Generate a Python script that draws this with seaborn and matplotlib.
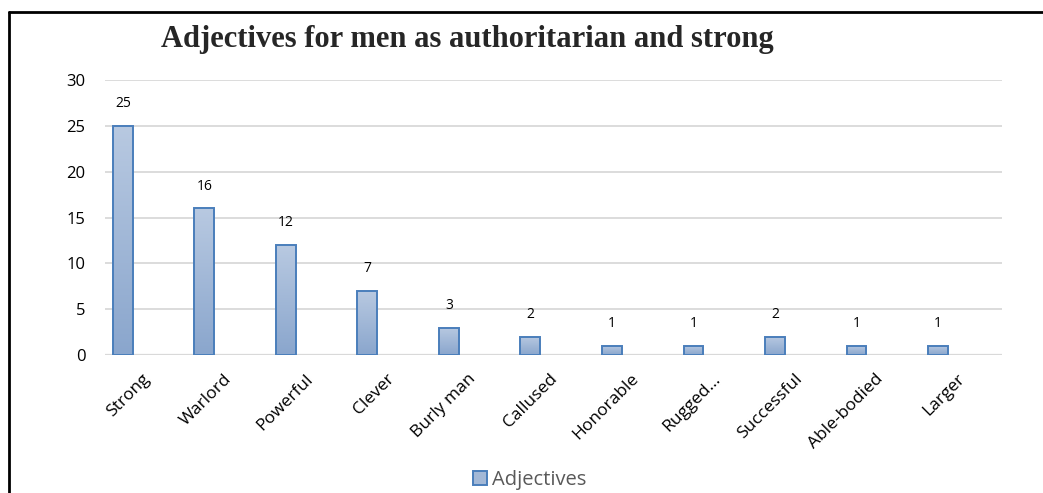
import numpy as np
import pandas as pd
import matplotlib
matplotlib.use("Agg")
import matplotlib.pyplot as plt
import matplotlib.transforms as mtransforms
import seaborn as sns
from matplotlib.colors import LinearSegmentedColormap
from matplotlib.lines import Line2D
from matplotlib.patches import Rectangle

# Data
categories = ["Strong", "Warlord", "Powerful", "Clever", "Burly man", "Callused",
              "Honorable", "Rugged...", "Successful", "Able-bodied", "Larger"]
counts = [25, 16, 12, 7, 3, 2, 1, 1, 2, 1, 1]
series_name = "Adjectives"
title = "Adjectives for men as authoritarian and strong"
y_ticks = [0, 5, 10, 15, 20, 25, 30]

df = pd.DataFrame({"Adjective": categories, "Count": counts})

sns.set_theme(style="white")
plt.rcParams["font.family"] = ["Open Sans", "DejaVu Sans"]

W, H = 1043, 493
fig = plt.figure(figsize=(W / 100, H / 100), dpi=100)
ax = fig.add_axes([105 / W, 1 - 355 / H, (1002 - 105) / W, (355 - 80) / H])

edge = "#4a7ebb"
sns.barplot(data=df, x="Adjective", y="Count", ax=ax, width=0.245,
            color="#a3b8d6", edgecolor=edge, linewidth=1.4, saturation=1)

# vertical gradient fill inside each bar
grad = LinearSegmentedColormap.from_list("barfill", ["#8aa6cd", "#b8c9e1"])
for patch in ax.patches:
    x0, y0 = patch.get_x(), patch.get_y()
    w, h = patch.get_width(), patch.get_height()
    img = ax.imshow(np.linspace(0, 1, 100).reshape(-1, 1), cmap=grad,
                    origin="lower", aspect="auto",
                    extent=[x0, x0 + w, y0, y0 + h], zorder=patch.get_zorder())
    img.set_clip_path(patch)
    patch.set_facecolor("none")
    patch.set_zorder(patch.get_zorder() + 0.1)

ax.set_xlim(-0.22, 10.785)
ax.set_ylim(0, 30)
ax.set_yticks(y_ticks)
ax.yaxis.grid(True, color="#d9d9d9", linewidth=1.3)
ax.set_axisbelow(True)
for s in ax.spines.values():
    s.set_visible(False)
ax.axhline(0, color="#d9d9d9", linewidth=1.6, zorder=0.5)

ax.set_xlabel("")
ax.set_ylabel("")
ax.tick_params(axis="y", length=0, pad=14, labelsize=12, labelcolor="#000000")
ax.tick_params(axis="x", length=0, pad=2, labelsize=12.5, labelcolor="#000000")
shift = mtransforms.ScaledTranslation(19 / 100, -13 / 100, fig.dpi_scale_trans)
for lab in ax.get_xticklabels():
    lab.set_rotation(45)
    lab.set_ha("right")
    lab.set_va("top")
    lab.set_rotation_mode("anchor")
    lab.set_transform(lab.get_transform() + shift)

# value labels above bars
for i, v in enumerate(counts):
    ax.annotate(str(v), (i, v), xytext=(0, 10.5), textcoords="offset points",
                ha="center", va="bottom", fontsize=10, color="#000000")

fig.text(467 / W, 1 - 40 / H, title, ha="center", va="center",
         fontsize=22, fontweight="bold", family=["Liberation Serif", "DejaVu Serif"])

# legend
handle = Rectangle((0, 0), 1, 1, facecolor="#a3b8d6", edgecolor=edge, linewidth=1.4)
fig.legend([handle], [series_name], loc="center", bbox_to_anchor=(530 / W, 1 - 480 / H),
           frameon=False, fontsize=14.5, labelcolor="#595959",
           handlelength=0.7, handleheight=0.7, handletextpad=0.25)

# outer frame (top and left edges)
fig.add_artist(Line2D([9 / W, 1], [1 - 12 / H, 1 - 12 / H], color="black",
                      linewidth=2, transform=fig.transFigure))
fig.add_artist(Line2D([9 / W, 9 / W], [0, 1 - 12 / H], color="black",
                      linewidth=2, transform=fig.transFigure))

fig.savefig("out.png", dpi=100, facecolor="white")
